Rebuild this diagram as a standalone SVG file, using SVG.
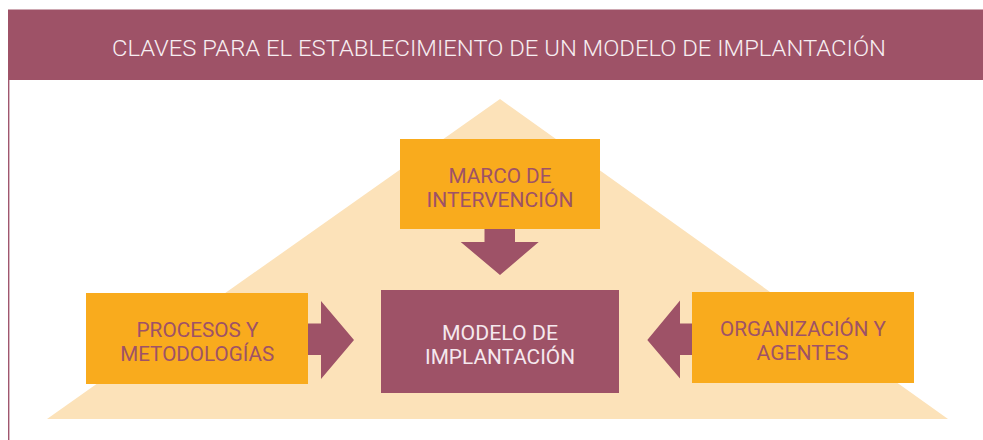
<svg xmlns="http://www.w3.org/2000/svg" width="983" height="440" viewBox="0 0 983 440">
<style>
.orange{fill:#F9AB1D}
.purple{fill:#9E5267}
.lbl{font-family:Roboto,"Liberation Sans",sans-serif;font-size:20px;text-anchor:middle}
.dark{fill:#9E5267}
.light{fill:#F5E8EE}
</style>
<rect x="0" y="0" width="983" height="440" fill="#ffffff"/>
<g id="header">
<rect x="8" y="9.5" width="975" height="70.5" class="purple"/>
<line x1="8.7" y1="80" x2="8.7" y2="440" stroke="#A0566E" stroke-width="1.4"/>
<text x="499" y="55.5" text-anchor="middle" font-family="Roboto,'Liberation Sans',sans-serif" font-size="22" fill="#F7EEF2" textLength="774" lengthAdjust="spacingAndGlyphs" font-weight="300">CLAVES PARA EL ESTABLECIMIENTO DE UN MODELO DE IMPLANTACIÓN</text>
</g>
<g id="background-triangle">
<polygon points="500,99 948,419 47,419" fill="#FCE2B9"/>
</g>
<g id="connectors">
<polygon class="purple" points="484.5,229 515,229 515,242 538.7,242 500,275 460.7,242 484.5,242"/>
<polygon class="purple" points="308,323.5 321,323.5 321,301 354,340 321,379 321,355 308,355"/>
<polygon class="purple" points="692,323.5 680,323.5 680,300.5 647.3,340 680,378.5 680,355 692,355"/>
</g>
<g id="marco">
<rect x="400" y="139" width="200" height="90" class="orange"/>
<text class="lbl dark" x="500" y="182.5" textLength="103" lengthAdjust="spacingAndGlyphs">MARCO DE</text>
<text class="lbl dark" x="500" y="206.5" textLength="147" lengthAdjust="spacingAndGlyphs">INTERVENCIÓN</text>
</g>
<g id="modelo">
<rect x="381" y="290" width="238" height="103" class="purple"/>
<text class="lbl light" x="500" y="340" textLength="116" lengthAdjust="spacingAndGlyphs">MODELO DE</text>
<text class="lbl light" x="500" y="364" textLength="150" lengthAdjust="spacingAndGlyphs">IMPLANTACIÓN</text>
</g>
<g id="procesos">
<rect x="86" y="293" width="222" height="91" class="orange"/>
<text class="lbl dark" x="197.5" y="336.7" textLength="122" lengthAdjust="spacingAndGlyphs">PROCESOS Y</text>
<text class="lbl dark" x="197.2" y="360.7" textLength="154" lengthAdjust="spacingAndGlyphs">METODOLOGÍAS</text>
</g>
<g id="organizacion">
<rect x="692" y="292" width="222" height="91" class="orange"/>
<text class="lbl dark" x="803" y="335.5" textLength="166" lengthAdjust="spacingAndGlyphs">ORGANIZACIÓN Y</text>
<text class="lbl dark" x="802.5" y="360" textLength="92" lengthAdjust="spacingAndGlyphs">AGENTES</text>
</g>
</svg>
